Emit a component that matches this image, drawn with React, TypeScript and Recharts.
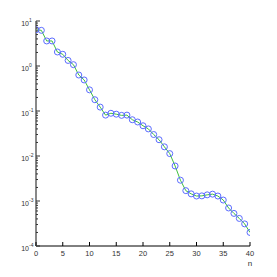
import React from 'react';
import { LineChart, Line, XAxis, YAxis } from 'recharts';

const nValues = [0, 1, 2, 3, 4, 5, 6, 7, 8, 9, 10, 11, 12, 13, 14, 15, 16, 17, 18, 19, 20, 21, 22, 23, 24, 25, 26, 27, 28, 29, 30, 31, 32, 33, 34, 35, 36, 37, 38, 39, 40];
const errValues = [6.4, 6.2, 3.6, 3.6, 2.05, 1.82, 1.33, 1.07, 0.63, 0.49, 0.295, 0.178, 0.122, 0.081, 0.089, 0.085, 0.08, 0.081, 0.064, 0.057, 0.047, 0.04, 0.03, 0.023, 0.016, 0.0113, 0.006, 0.0029, 0.0017, 0.00144, 0.00129, 0.0013, 0.00137, 0.00142, 0.00129, 0.00105, 0.0007, 0.00053, 0.00041, 0.00031, 0.0002];
const xTicks = [0, 5, 10, 15, 20, 25, 30, 35, 40];
const yDecades = [1e-4, 1e-3, 1e-2, 1e-1, 1, 10];
const xLabel = 'n';

const yTicks: number[] = [];
yDecades.forEach((d, i) => {
  if (i < yDecades.length - 1) {
    for (let k = 1; k < 10; k++) yTicks.push(d * k);
  } else {
    yTicks.push(d);
  }
});

const data = nValues.map((n, i) => ({ n, e: errValues[i] }));

const isMajor = (v: number) => {
  const l = Math.log10(v);
  return Math.abs(l - Math.round(l)) < 1e-6;
};

const BottomTick = (props: any) => {
  const { x, y, payload } = props;
  const last = payload.value === 40;
  return (
    <g>
      <line x1={x} x2={x} y1={y} y2={y - 4} stroke="#000" strokeWidth={1} />
      <text x={x} y={y + 10} textAnchor="middle" fontSize={7.5} fill="#333" fontFamily="Liberation Sans, Arial, sans-serif">
        {payload.value}
      </text>
      {last && (
        <text x={x} y={y + 20} textAnchor="middle" fontSize={8} fill="#333" fontFamily="Liberation Sans, Arial, sans-serif">
          {xLabel}
        </text>
      )}
    </g>
  );
};

const TopTick = (props: any) => {
  const { x, y } = props;
  return <line x1={x} x2={x} y1={y} y2={y + 4} stroke="#777" strokeWidth={1} />;
};

const LeftTick = (props: any) => {
  const { x, y, payload } = props;
  const major = isMajor(payload.value);
  const exp = Math.round(Math.log10(payload.value));
  return (
    <g>
      <line x1={x} x2={x + (major ? 4 : 2)} y1={y} y2={y} stroke="#333" strokeWidth={1} />
      {major && (
        <g fontFamily="Liberation Sans, Arial, sans-serif" fill="#333">
          <text x={x - 7} y={y + 5} textAnchor="end" fontSize={7}>10</text>
          <text x={x - 7} y={y + 1} textAnchor="start" fontSize={5}>{exp}</text>
        </g>
      )}
    </g>
  );
};

const RightTick = (props: any) => {
  const { x, y, payload } = props;
  const major = isMajor(payload.value);
  return <line x1={x} x2={x - (major ? 4 : 2)} y1={y} y2={y} stroke="#333" strokeWidth={1} />;
};

export default function App() {
  return (
    <div style={{ position: 'absolute', left: 0, top: 0 }}>
      <LineChart width={277} height={277} data={data} margin={{ top: 21, right: 27, left: 0, bottom: 0 }}>
        <XAxis
          xAxisId="b"
          dataKey="n"
          type="number"
          domain={[0, 40]}
          ticks={xTicks}
          interval={0}
          allowDataOverflow
          height={31}
          tickSize={0}
          tickMargin={0}
          tickLine={false}
          axisLine={{ stroke: '#000', strokeWidth: 1 }}
          tick={<BottomTick />}
        />
        <XAxis
          xAxisId="t"
          orientation="top"
          dataKey="n"
          type="number"
          domain={[0, 40]}
          ticks={xTicks}
          interval={0}
          allowDataOverflow
          height={0}
          tickSize={0}
          tickMargin={0}
          tickLine={false}
          axisLine={{ stroke: '#888', strokeWidth: 2 }}
          tick={<TopTick />}
        />
        <YAxis
          yAxisId="l"
          type="number"
          scale="log"
          domain={[1e-4, 10]}
          ticks={yTicks}
          interval={0}
          allowDataOverflow
          width={36}
          tickSize={0}
          tickMargin={0}
          tickLine={false}
          axisLine={{ stroke: '#888', strokeWidth: 2 }}
          tick={<LeftTick />}
        />
        <YAxis
          yAxisId="r"
          orientation="right"
          type="number"
          scale="log"
          domain={[1e-4, 10]}
          ticks={yTicks}
          interval={0}
          allowDataOverflow
          width={0}
          tickSize={0}
          tickMargin={0}
          tickLine={false}
          axisLine={{ stroke: '#333', strokeWidth: 1.5 }}
          tick={<RightTick />}
        />
        <Line
          xAxisId="b"
          yAxisId="l"
          dataKey="e"
          type="linear"
          stroke="#3fbf3f"
          strokeWidth={1}
          dot={{ r: 3, stroke: '#5b6cff', strokeWidth: 1, fill: 'none' }}
          isAnimationActive={false}
        />
        <Line
          xAxisId="t"
          yAxisId="r"
          dataKey="e"
          type="linear"
          stroke="none"
          dot={false}
          activeDot={false}
          legendType="none"
          isAnimationActive={false}
        />
      </LineChart>
    </div>
  );
}
